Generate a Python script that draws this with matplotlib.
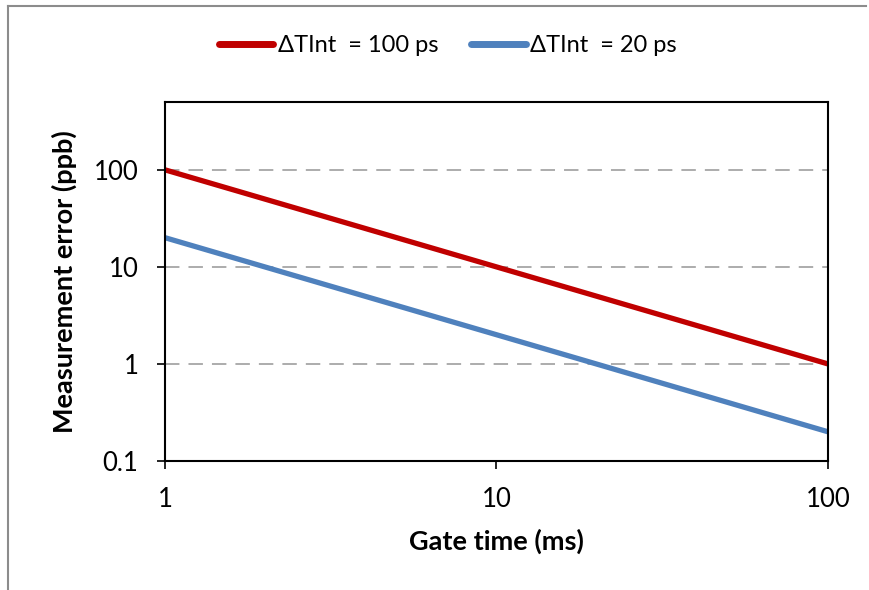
import matplotlib.pyplot as plt
from matplotlib.lines import Line2D

gate_time = [1, 10, 100]
err_100ps = [100, 10, 1]
err_20ps = [20, 2, 0.2]

series_labels = ['\u0394TInt  = 100 ps', '\u0394TInt  = 20 ps']
x_ticks = [1, 10, 100]
x_tick_labels = ['1', '10', '100']
y_ticks = [0.1, 1, 10, 100]
y_tick_labels = ['0.1', '1', '10', '100']

plt.rcParams['font.family'] = ['Lato', 'DejaVu Sans']

W, H = 870, 590
fig = plt.figure(figsize=(W / 100, H / 100), dpi=100)

# outer chart border (only top and left visible in crop)
fig.add_artist(Line2D([8.5 / W, 8.5 / W], [0, 1 - 6 / H], color='#8c8c8c', lw=1.5))
fig.add_artist(Line2D([8.5 / W, 0.995], [1 - 6 / H, 1 - 6 / H], color='#8c8c8c', lw=1.5))

ax = fig.add_axes([165 / W, 1 - 461 / H, (828 - 165) / W, (461 - 102) / H])

ax.plot(gate_time, err_100ps, color='#C00000', lw=3.8, label=series_labels[0],
        solid_capstyle='butt')
ax.plot(gate_time, err_20ps, color='#4F81BD', lw=3.8, label=series_labels[1],
        solid_capstyle='butt')

ax.set_xscale('log')
ax.set_yscale('log')
ax.set_xlim(1, 100)
ax.set_ylim(0.1, 500)

ax.set_xticks(x_ticks)
ax.set_xticklabels(x_tick_labels)
ax.set_yticks(y_ticks)
ax.set_yticklabels(y_tick_labels)
ax.minorticks_off()
ax.tick_params(axis='both', direction='out', length=6, width=1.2, color='black',
               labelsize=18.5, pad=13)

for s in ax.spines.values():
    s.set_color('black')
    s.set_linewidth(1.5)

for yv in [1, 10, 100]:
    ax.axhline(yv, color='#a6a6a6', lw=1.3, dashes=(8, 5), zorder=0)

ax.set_xlabel('Gate time (ms)', fontsize=19.5, fontweight='bold', labelpad=12)
ax.set_ylabel('Measurement error (ppb)', fontsize=19.5, fontweight='bold', labelpad=12)

leg = fig.legend(loc='center', bbox_to_anchor=(448 / W, 1 - 46 / H), ncol=2,
                 frameon=False, fontsize=17, handlelength=2.3, handletextpad=0.2,
                 columnspacing=1.4)
for h in leg.get_lines():
    h.set_linewidth(5)
    h.set_solid_capstyle('round')

fig.savefig('out.png', dpi=100)
